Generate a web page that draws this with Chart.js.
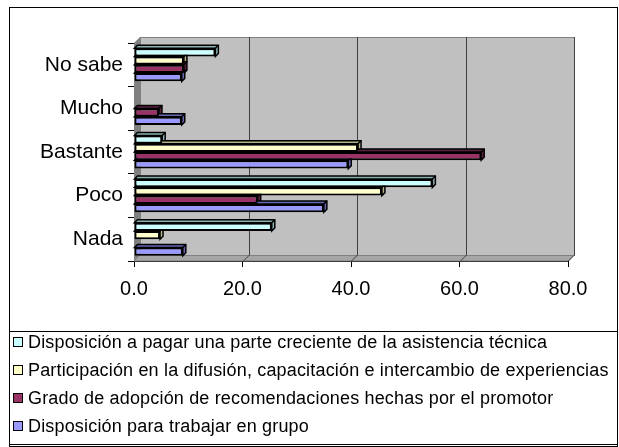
<!DOCTYPE html>
<html>
<head>
<meta charset="utf-8">
<script src="https://cdn.jsdelivr.net/npm/chart.js@4.4.1/dist/chart.umd.min.js"></script>
<style>
  html, body { margin: 0; padding: 0; background: #fff; }
  #wrap { position: relative; width: 619px; height: 447px; font-family: "Liberation Sans", Arial, sans-serif; }
  #frame { position: absolute; left: 9px; top: 7px; width: 607px; height: 438px; border: 1px solid #000; }
  #legend { position: absolute; left: 9px; top: 331px; width: 609px; height: 114px; border: 1px solid #000; box-sizing: border-box; }
  .item { position: absolute; left: 0; height: 28px; display: flex; align-items: center; font-size: 18px; letter-spacing: 0.17px; color: #000; white-space: nowrap; }
  .box { width: 8px; height: 8px; border: 1px solid #000; margin: 0 5px 0 3px; }
  canvas { position: absolute; left: 0; top: 0; }
</style>
</head>
<body>
<div id="wrap">
  <div id="frame"></div>
  <canvas id="chart" width="619" height="447"></canvas>
  <div id="legend"></div>
</div>
<script>
// categories, top to bottom as in the picture
const categories = ['No sabe', 'Mucho', 'Bastante', 'Poco', 'Nada'];

const seriesNames = [
  'Disposición a pagar una parte creciente de la asistencia técnica',
  'Participación en la difusión, capacitación e intercambio de experiencias',
  'Grado de adopción de recomendaciones hechas por el promotor',
  'Disposición para trabajar en grupo'
];

const pagar         = [15.0, 0, 5.2, 55.0, 25.4];
const participacion = [9.2, 0, 41.3, 45.7, 4.8];
const adopcion      = [9.2, 4.6, 64.0, 22.8, 0];
const grupo         = [8.8, 8.8, 39.5, 35.0, 9.0];

const xTicks = [0, 20, 40, 60, 80];

const colors = ['#CCFFFF', '#FFFFCC', '#993366', '#9999FF'];
const sideColors = ['#8CB3B3', '#B3B38C', '#5E1F40', '#6666B3'];

const DEPTH = 6;

// 3D walls, floor, gridlines and bar depth faces, all behind the bar fronts
const walls = {
  id: 'walls',
  beforeDatasetsDraw(chart) {
    const { ctx, chartArea: a, scales } = chart;
    const d = DEPTH;
    ctx.save();
    // side wall
    ctx.fillStyle = '#808080';
    ctx.beginPath();
    ctx.moveTo(a.left, a.top);
    ctx.lineTo(a.left + d, a.top - d);
    ctx.lineTo(a.left + d, a.bottom - d);
    ctx.lineTo(a.left, a.bottom);
    ctx.closePath();
    ctx.fill();
    // floor
    ctx.fillStyle = '#A6A6A6';
    ctx.beginPath();
    ctx.moveTo(a.left, a.bottom);
    ctx.lineTo(a.left + d, a.bottom - d);
    ctx.lineTo(a.right + d, a.bottom - d);
    ctx.lineTo(a.right, a.bottom);
    ctx.closePath();
    ctx.fill();
    ctx.strokeStyle = '#808080';
    ctx.lineWidth = 1;
    ctx.stroke();
    // back wall
    ctx.fillStyle = '#C0C0C0';
    ctx.fillRect(a.left + d, a.top - d, a.right - a.left, a.bottom - a.top);
    ctx.strokeStyle = '#808080';
    ctx.strokeRect(a.left + d + 0.5, a.top - d + 0.5, a.right - a.left, a.bottom - a.top);
    // gridlines
    ctx.strokeStyle = '#404040';
    xTicks.forEach(v => {
      if (v === 0) return;
      const x = Math.round(scales.x.getPixelForValue(v)) + 0.5;
      ctx.beginPath();
      ctx.moveTo(x, a.bottom);
      ctx.lineTo(x + d, a.bottom - d);
      ctx.lineTo(x + d, a.top - d);
      ctx.stroke();
    });

    // bar top and end faces; the fronts drawn afterwards hide what is behind them
    const dd = 3;
    ctx.lineWidth = 1.5;
    ctx.strokeStyle = '#000';
    chart.data.datasets.forEach((ds, i) => {
      chart.getDatasetMeta(i).data.forEach(bar => {
        const p = bar.getProps(['x', 'y', 'base', 'height'], true);
        if (Math.abs(p.x - p.base) < 0.5) return;
        const top = p.y - p.height / 2;
        const bot = p.y + p.height / 2;
        ctx.fillStyle = sideColors[i];
        ctx.beginPath();
        ctx.moveTo(p.base, top);
        ctx.lineTo(p.base + dd, top - dd);
        ctx.lineTo(p.x + dd, top - dd);
        ctx.lineTo(p.x + dd, bot - dd);
        ctx.lineTo(p.x, bot);
        ctx.lineTo(p.x, top);
        ctx.closePath();
        ctx.fill();
        ctx.stroke();
        ctx.beginPath();
        ctx.moveTo(p.x, top);
        ctx.lineTo(p.x + dd, top - dd);
        ctx.stroke();
      });
    });
    ctx.restore();
  }
};

const series = [pagar, participacion, adopcion, grupo];

new Chart(document.getElementById('chart'), {
  type: 'bar',
  data: {
    labels: categories,
    datasets: series.map((vals, i) => ({
      label: seriesNames[i],
      data: vals,
      backgroundColor: colors[i],
      borderColor: '#000',
      borderWidth: 2,
      borderSkipped: false,
      categoryPercentage: 0.76,
      barPercentage: 1.0
    }))
  },
  options: {
    indexAxis: 'y',
    responsive: false,
    animation: false,
    layout: { padding: { left: 10, right: 51, top: 43, bottom: 0 } },
    plugins: { legend: { display: false }, tooltip: { enabled: false } },
    scales: {
      x: {
        min: 0, max: 80,
        afterFit: s => { s.height = 186; },
        afterBuildTicks: s => { s.ticks = xTicks.map(v => ({ value: v })); },
        border: { color: '#000', width: 1 },
        grid: { drawOnChartArea: false, drawTicks: true, tickLength: 6, color: '#000' },
        ticks: {
          color: '#000', padding: 10,
          font: { family: 'Liberation Sans', size: 20 },
          callback: v => Number(v).toFixed(1)
        }
      },
      y: {
        afterFit: s => { s.width = 124; },
        border: { color: '#000', width: 1 },
        grid: { drawOnChartArea: false, drawTicks: true, tickLength: 6, color: '#000', offset: true },
        ticks: {
          color: '#000', padding: 5,
          font: { family: 'Liberation Sans', size: 21 }
        }
      }
    }
  },
  plugins: [walls]
});

// legend built from the same series names and colours
const legend = document.getElementById('legend');
seriesNames.forEach((name, i) => {
  const row = document.createElement('div');
  row.className = 'item';
  row.style.top = (342 + i * 28 - 14 - 332) + 'px';
  row.innerHTML = '<span class="box" style="background:' + colors[i] + '"></span>' + name;
  legend.appendChild(row);
});
</script>
</body>
</html>
